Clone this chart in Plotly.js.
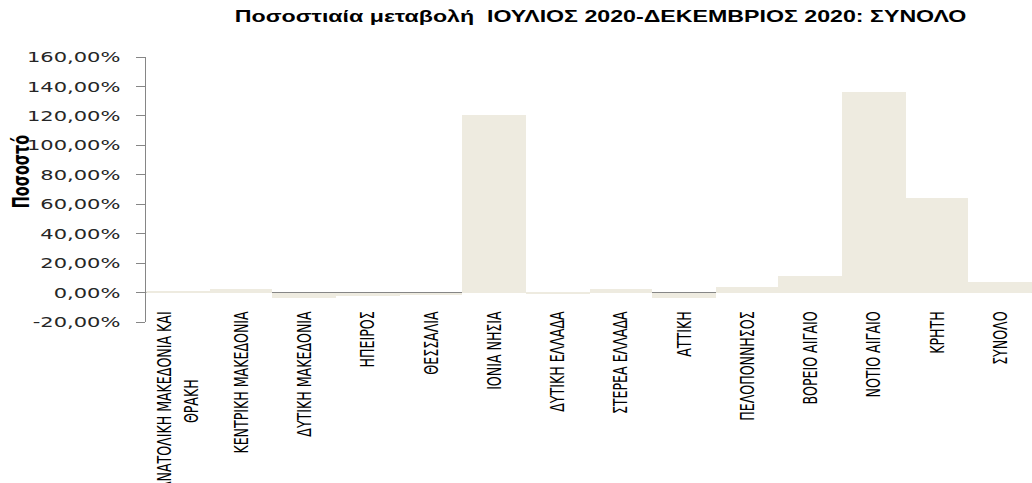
<!DOCTYPE html>
<html>
<head>
<meta charset="utf-8">
<script src="https://cdn.plot.ly/plotly-3.0.1.min.js"></script>
<style>
html,body{margin:0;padding:0;overflow:hidden;background:#fff;width:1032px;height:483px;}
#chart{width:712px;height:483px;transform:scaleX(1.4494);transform-origin:0 0;}
</style>
</head>
<body>
<div id="chart"></div>
<script>
const categories = [
  "ΑΝΑΤΟΛΙΚΗ ΜΑΚΕΔΟΝΙΑ ΚΑΙ<br>ΘΡΑΚΗ" + "\u00A0".repeat(17),
  "ΚΕΝΤΡΙΚΗ ΜΑΚΕΔΟΝΙΑ",
  "ΔΥΤΙΚΗ ΜΑΚΕΔΟΝΙΑ",
  "ΗΠΕΙΡΟΣ",
  "ΘΕΣΣΑΛΙΑ",
  "ΙΟΝΙΑ ΝΗΣΙΑ",
  "ΔΥΤΙΚΗ ΕΛΛΑΔΑ",
  "ΣΤΕΡΕΑ ΕΛΛΑΔΑ",
  "ΑΤΤΙΚΗ",
  "ΠΕΛΟΠΟΝΝΗΣΟΣ",
  "ΒΟΡΕΙΟ ΑΙΓΑΙΟ",
  "ΝΟΤΙΟ ΑΙΓΑΙΟ",
  "ΚΡΗΤΗ",
  "ΣΥΝΟΛΟ"
];
const changePct = [1.2, 2.5, -3.8, -2.3, -1.6, 120.3, -0.7, 2.5, -3.5, 4.0, 11.0, 135.9, 63.9, 7.3];
const yTicks = [-20, 0, 20, 40, 60, 80, 100, 120, 140, 160];
const yTickText = ["-20,00%", "0,00%", "20,00%", "40,00%", "60,00%", "80,00%", "100,00%", "120,00%", "140,00%", "160,00%"];

const trace = {
  type: 'bar',
  x: categories,
  y: changePct,
  marker: {color: '#EEEBE0', line: {width: 0}},
  hoverinfo: 'x+y'
};

const layout = {
  width: 712,
  height: 483,
  margin: {l: 101, r: 0, t: 57, b: 161, pad: 0},
  paper_bgcolor: '#ffffff',
  plot_bgcolor: '#ffffff',
  bargap: 0,
  showlegend: false,
  title: {
    text: 'Ποσοστιαία μεταβολή  ΙΟΥΛΙΟΣ 2020-ΔΕΚΕΜΒΡΙΟΣ 2020: ΣΥΝΟΛΟ',
    font: {family: 'Liberation Sans, Arial, sans-serif', size: 16, color: '#000000', weight: 'bold'},
    x: 0.582, xref: 'container', xanchor: 'center',
    y: 0.965, yref: 'container', yanchor: 'middle'
  },
  xaxis: {
    type: 'category',
    anchor: 'free',
    position: 20 / 180,
    showline: false,
    showgrid: false,
    zeroline: false,
    ticks: '',
    tickangle: -90,
    ticklabelstandoff: 15,
    tickfont: {family: 'Liberation Sans Narrow, DejaVu Sans Condensed, sans-serif', size: 14, color: '#000000'},
    fixedrange: true
  },
  yaxis: {
    range: [-20, 160],
    tickvals: yTicks,
    ticktext: yTickText,
    showgrid: false,
    zeroline: true,
    zerolinecolor: '#868686',
    zerolinewidth: 1,
    showline: true,
    linecolor: '#868686',
    linewidth: 1,
    ticks: 'outside',
    ticklen: 6,
    tickcolor: '#868686',
    ticklabelstandoff: 8,
    tickfont: {family: 'DejaVu Sans, Verdana, sans-serif', size: 14.5, color: '#262626'},
    fixedrange: true
  },
  annotations: [{
    text: 'Ποσοστό',
    xref: 'paper', yref: 'paper',
    x: -0.142, y: 0.566,
    xanchor: 'center', yanchor: 'middle',
    textangle: -90,
    showarrow: false,
    font: {family: 'Liberation Sans Narrow, DejaVu Sans Condensed, sans-serif', size: 16, color: '#000000', weight: 'bold'}
  }]
};

Plotly.newPlot('chart', [trace], layout, {displayModeBar: false, responsive: false});
</script>
</body>
</html>
